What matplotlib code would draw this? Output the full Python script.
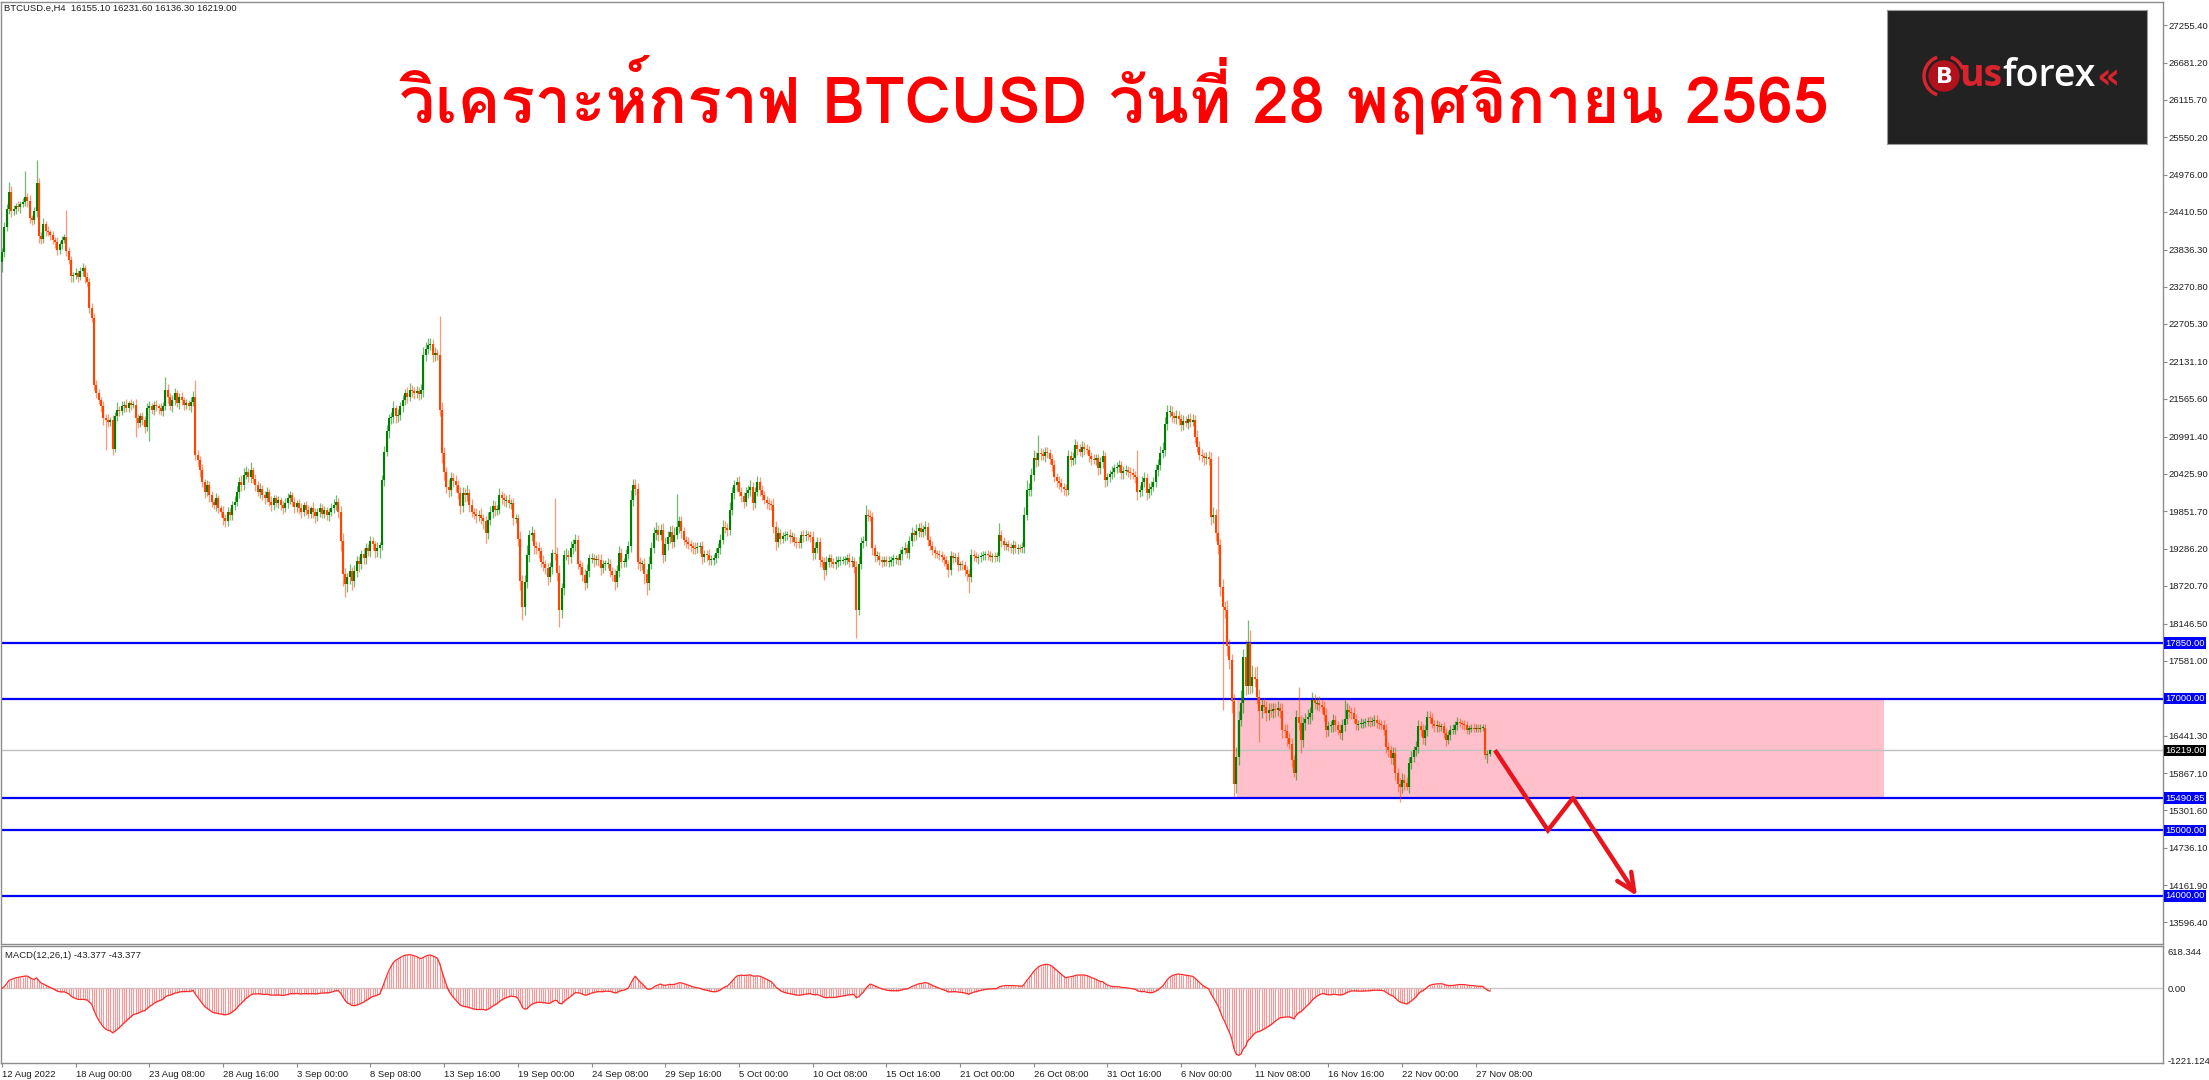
import numpy as np
import pandas as pd
import matplotlib
matplotlib.use("Agg")
import matplotlib.pyplot as plt
import matplotlib.transforms as mtransforms
import matplotlib.patheffects as pe
from matplotlib import font_manager
from matplotlib.ft2font import FT2Font
from matplotlib.patches import Rectangle, Circle, Arc
from matplotlib.font_manager import FontProperties

# ---------------- DATA ----------------
symbol_header = "BTCUSD.e,H4  16155.10 16231.60 16136.30 16219.00"
title_text = "วิเคราะห์กราฟ BTCUSD วันที่ 28 พฤศจิกายน 2565"
macd_header = "MACD(12,26,1) -43.377 -43.377"

first_open = 23650
close_prices = [
    23800, 24180, 24460, 24720, 24420, 24450, 24500, 24480, 24530, 24560, 24640, 24580, 24320, 24290, 24420, 24850, 24040, 24000, 24220, 24120,
    24100, 24060, 23980, 23950, 23830, 23930, 23990, 24030, 23810, 23680, 23430, 23450, 23480, 23420, 23510, 23550, 23420, 23350, 22950, 22790,
    21780, 21650, 21550, 21450, 21270, 21250, 21220, 21250, 20810, 21300, 21400, 21380, 21460, 21470, 21430, 21500, 21470, 21480, 21280, 21200,
    21300, 21250, 21140, 21420, 21460, 21400, 21480, 21450, 21420, 21380, 21460, 21700, 21600, 21450, 21550, 21650, 21500, 21600, 21550, 21480,
    21500, 21450, 21520, 21600, 20710, 20640, 20480, 20300, 20150, 20250, 20100, 20000, 19950, 20050, 19900, 19850, 19750, 19700, 19850, 19800,
    19950, 20000, 20150, 20300, 20250, 20400, 20450, 20380, 20480, 20350, 20250, 20150, 20200, 20100, 20050, 20150, 20000, 19950, 20050, 19980,
    20020, 19950, 19900, 19980, 20050, 20100, 20000, 19920, 19980, 19900, 19850, 19950, 19880, 19820, 19900, 19850, 19780, 19850, 19900, 19820,
    19870, 19800, 19850, 19900, 19950, 20000, 19850, 19400, 18900, 18750, 18850, 18950, 18800, 18950, 19100, 19050, 19200, 19150, 19300, 19250,
    19400, 19350, 19250, 19300, 19340, 20330, 20760, 21070, 21270, 21290, 21420, 21300, 21320, 21450, 21550, 21650, 21600, 21700, 21680, 21650,
    21680, 21640, 21700, 22230, 22330, 22380, 22400, 22230, 22260, 22230, 21400, 20740, 20450, 20230, 20180, 20360, 20310, 20250, 20130, 19930,
    20130, 20100, 20130, 19950, 19850, 19820, 19780, 19800, 19750, 19700, 19520, 19720, 19850, 19930, 19880, 19880, 20100, 20050, 20020, 20030,
    19980, 19980, 19750, 19750, 19440, 18800, 18400, 18780, 19190, 19490, 19520, 19320, 19300, 19250, 19090, 19050, 18990, 18860, 19000, 19220,
    19210, 18910, 18350, 18680, 19190, 19190, 19160, 19290, 19350, 19420, 19060, 19000, 18890, 18760, 18950, 19140, 19140, 19110, 19120, 19110,
    18990, 19050, 19060, 19060, 18950, 18890, 18780, 18950, 19220, 19090, 19090, 19200, 19320, 20030, 20250, 20200, 19090, 19060, 19060, 18900,
    18760, 19060, 19300, 19520, 19570, 19500, 19570, 19190, 19350, 19470, 19540, 19390, 19500, 19620, 19700, 19550, 19420, 19390, 19350, 19320,
    19300, 19290, 19310, 19320, 19160, 19200, 19190, 19110, 19120, 19140, 19220, 19300, 19420, 19620, 19600, 19570, 19870, 20130, 20250, 20300,
    20150, 20080, 20000, 20130, 20180, 20230, 19980, 20150, 20300, 20180, 20100, 20030, 19980, 19960, 19950, 19620, 19390, 19520, 19440, 19480,
    19490, 19500, 19460, 19470, 19390, 19380, 19370, 19490, 19480, 19500, 19490, 19470, 19220, 19300, 19390, 19110, 19090, 18960, 19090, 19140,
    19080, 19060, 19090, 19110, 19110, 19110, 19120, 19140, 19090, 19100, 19010, 18350, 19060, 19370, 19400, 19800, 19790, 19770, 19290, 19170,
    19180, 19120, 19090, 19110, 19080, 19090, 19110, 19140, 19140, 19110, 19200, 19270, 19290, 19220, 19400, 19520, 19490, 19560, 19600, 19540,
    19580, 19620, 19420, 19330, 19270, 19220, 19200, 19190, 19160, 19110, 19050, 18960, 19170, 19150, 19160, 19040, 19050, 19030, 18960, 18900,
    18860, 19190, 19170, 19140, 19160, 19170, 19190, 19200, 19190, 19160, 19170, 19160, 19170, 19490, 19400, 19340, 19350, 19310, 19290, 19340,
    19290, 19300, 19290, 19310, 19800, 20180, 20180, 20400, 20660, 20630, 20740, 20720, 20700, 20760, 20740, 20650, 20560, 20380, 20320, 20280,
    20230, 20200, 20180, 20690, 20630, 20660, 20860, 20800, 20760, 20840, 20800, 20790, 20690, 20650, 20640, 20660, 20510, 20600, 20690, 20330,
    20380, 20420, 20460, 20510, 20530, 20560, 20430, 20470, 20480, 20460, 20430, 20410, 20380, 20150, 20180, 20300, 20360, 20130, 20200, 20230,
    20300, 20480, 20560, 20740, 20790, 21190, 21370, 21370, 21300, 21270, 21300, 21260, 21170, 21230, 21200, 21260, 21220, 21250, 20990, 20840,
    20710, 20690, 20660, 20680, 20650, 19770, 19800, 19520, 19340, 18710, 18400, 18350, 17800, 17590, 16960, 15710, 16120, 16680, 16930, 17640,
    17190, 17850, 17190, 17340, 17300, 17030, 16810, 16900, 16880, 16780, 16830, 16810, 16850, 16830, 16860, 16810, 16530, 16510, 16400, 16320,
    16070, 15870, 16730, 16630, 16380, 16630, 16700, 16730, 16780, 16980, 16930, 16940, 16900, 16880, 16760, 16530, 16580, 16600, 16680, 16600,
    16530, 16480, 16600, 16700, 16830, 16800, 16780, 16700, 16610, 16620, 16630, 16630, 16650, 16660, 16650, 16660, 16680, 16630, 16610, 16600,
    16530, 16270, 16220, 16100, 16170, 15870, 15700, 15660, 15770, 15720, 15660, 16020, 16120, 16220, 16270, 16580, 16530, 16400, 16530, 16730,
    16710, 16620, 16580, 16600, 16570, 16580, 16480, 16380, 16450, 16530, 16530, 16600, 16650, 16630, 16610, 16600, 16530, 16550, 16560, 16550,
    16560, 16550, 16560, 16560, 16150, 16155, 16219,
]

upper_wick = [
    60, 80, 70, 150, 90, 60, 50, 80, 40, 70, 400, 60, 90, 50, 70, 350, 80, 60, 100, 50,
    70, 40, 60, 50, 80, 40, 60, 50, 410, 70, 60, 50, 80, 40, 60, 90, 50, 70, 60, 80,
    90, 70, 60, 50, 80, 60, 90, 40, 70, 60, 120, 50, 80, 60, 90, 40, 70, 50, 80, 60,
    50, 70, 60, 90, 80, 50, 60, 70, 40, 80, 60, 200, 90, 60, 70, 80, 50, 60, 70, 40,
    60, 50, 70, 80, 260, 70, 60, 90, 50, 80, 60, 70, 40, 90, 60, 50, 80, 60, 70, 50,
    60, 80, 90, 70, 100, 110, 90, 60, 120, 50, 70, 60, 80, 50, 60, 70, 40, 80, 60, 50,
    70, 50, 60, 80, 90, 60, 50, 70, 40, 60, 80, 50, 60, 70, 40, 90, 60, 50, 80, 60,
    70, 50, 60, 80, 90, 100, 60, 80, 120, 90, 70, 100, 60, 90, 80, 70, 60, 90, 70, 60,
    80, 70, 60, 90, 50, 80, 90, 100, 70, 80, 120, 60, 90, 70, 80, 60, 90, 100, 70, 60,
    80, 70, 90, 120, 100, 110, 90, 80, 100, 70, 600, 120, 90, 80, 110, 100, 70, 90, 80, 100,
    90, 80, 120, 70, 90, 60, 80, 70, 100, 60, 80, 120, 90, 100, 80, 70, 110, 60, 80, 70,
    90, 60, 80, 70, 60, 120, 90, 100, 150, 80, 110, 70, 90, 80, 60, 100, 70, 80, 90, 60,
    830, 100, 120, 90, 80, 100, 70, 120, 80, 90, 70, 60, 80, 90, 100, 70, 80, 60, 70, 80,
    90, 70, 60, 80, 70, 60, 90, 80, 100, 70, 60, 80, 90, 150, 100, 90, 80, 70, 60, 90,
    80, 110, 90, 100, 120, 80, 90, 100, 110, 80, 90, 100, 120, 500, 90, 80, 70, 60, 80, 70,
    60, 80, 70, 60, 80, 70, 60, 90, 70, 60, 80, 70, 90, 100, 80, 70, 120, 90, 80, 70,
    90, 80, 70, 90, 80, 100, 70, 80, 90, 70, 80, 70, 60, 80, 70, 100, 80, 90, 70, 60,
    70, 60, 80, 70, 60, 80, 70, 60, 80, 70, 60, 70, 80, 90, 70, 80, 60, 70, 80, 60,
    70, 60, 80, 70, 60, 70, 50, 60, 80, 70, 60, 90, 120, 100, 80, 150, 90, 80, 70, 60,
    70, 60, 50, 70, 60, 80, 70, 60, 50, 70, 80, 60, 90, 70, 80, 90, 70, 100, 80, 90,
    70, 80, 70, 60, 70, 60, 50, 70, 60, 50, 70, 60, 80, 70, 60, 70, 50, 60, 70, 60,
    80, 90, 70, 60, 50, 70, 60, 50, 70, 60, 50, 60, 70, 190, 80, 70, 60, 70, 60, 80,
    70, 60, 50, 70, 120, 150, 100, 110, 130, 90, 280, 80, 90, 70, 80, 60, 70, 80, 60, 70,
    80, 60, 70, 100, 80, 90, 100, 70, 80, 90, 70, 80, 60, 70, 80, 60, 70, 80, 90, 70,
    60, 70, 80, 60, 70, 80, 60, 70, 80, 60, 70, 80, 60, 400, 80, 90, 100, 70, 80, 90,
    80, 100, 90, 110, 120, 100, 110, 100, 80, 70, 90, 80, 70, 90, 80, 70, 90, 80, 70, 100,
    80, 90, 70, 80, 90, 100, 120, 90, 1170, 100, 120, 90, 150, 110, 100, 120, 150, 140, 200, 120,
    260, 350, 200, 180, 150, 200, 120, 100, 110, 90, 100, 110, 80, 90, 100, 80, 120, 90, 100, 80,
    90, 80, 100, 456, 120, 100, 90, 110, 100, 130, 100, 90, 110, 80, 90, 100, 80, 70, 90, 80,
    70, 80, 90, 280, 100, 70, 80, 90, 70, 60, 80, 70, 60, 70, 80, 60, 70, 80, 60, 70,
    80, 90, 70, 80, 90, 100, 80, 90, 100, 80, 90, 100, 80, 70, 90, 100, 80, 90, 70, 80,
    80, 70, 60, 80, 70, 60, 70, 80, 60, 70, 80, 60, 70, 60, 50, 70, 60, 50, 60, 70,
    50, 60, 50, 60, 50, 70, 13,
]

lower_wick = [
    150, 70, 60, 80, 90, 50, 70, 60, 80, 40, 60, 90, 70, 80, 60, 90, 100, 70, 60, 80,
    60, 80, 50, 90, 70, 60, 80, 50, 70, 60, 90, 80, 60, 70, 50, 80, 90, 70, 80, 60,
    80, 70, 60, 90, 100, 460, 80, 70, 100, 60, 70, 80, 60, 90, 70, 60, 80, 50, 300, 80,
    60, 80, 90, 70, 500, 60, 80, 70, 90, 60, 80, 70, 90, 60, 80, 70, 60, 90, 70, 80,
    70, 60, 80, 70, 80, 90, 100, 80, 90, 70, 100, 80, 60, 90, 70, 80, 100, 90, 70, 80,
    80, 70, 60, 90, 80, 70, 60, 80, 90, 70, 80, 60, 90, 70, 80, 60, 70, 90, 80, 60,
    70, 80, 90, 60, 70, 80, 60, 90, 70, 80, 90, 60, 80, 70, 60, 90, 100, 70, 80, 60,
    70, 80, 90, 60, 70, 80, 100, 150, 180, 200, 120, 100, 150, 90, 100, 120, 80, 90, 100, 70,
    90, 80, 100, 90, 150, 80, 90, 70, 100, 80, 90, 100, 80, 70, 90, 80, 100, 70, 90, 80,
    70, 90, 80, 100, 90, 80, 70, 100, 90, 80, 100, 150, 120, 100, 110, 90, 80, 100, 90, 120,
    80, 100, 90, 110, 80, 90, 100, 80, 90, 110, 150, 90, 80, 100, 90, 80, 70, 90, 80, 100,
    80, 90, 100, 80, 120, 150, 200, 130, 90, 100, 80, 120, 90, 100, 80, 110, 90, 120, 80, 100,
    90, 120, 250, 120, 100, 80, 110, 90, 80, 100, 90, 120, 100, 110, 80, 90, 70, 100, 80, 90,
    100, 80, 90, 70, 100, 90, 120, 80, 90, 100, 80, 90, 70, 80, 90, 100, 120, 110, 100, 150,
    180, 100, 90, 80, 100, 90, 80, 120, 90, 80, 100, 90, 80, 70, 90, 100, 80, 90, 70, 80,
    90, 80, 70, 90, 100, 80, 90, 70, 80, 90, 70, 80, 90, 70, 80, 90, 80, 70, 90, 80,
    70, 80, 90, 70, 80, 90, 100, 80, 70, 90, 80, 70, 90, 80, 70, 90, 120, 80, 90, 70,
    80, 70, 90, 80, 70, 90, 80, 70, 90, 80, 70, 80, 110, 90, 80, 100, 90, 150, 80, 90,
    80, 70, 90, 80, 70, 60, 80, 70, 90, 80, 100, 430, 80, 90, 70, 80, 90, 70, 100, 80,
    70, 90, 80, 70, 60, 80, 70, 90, 80, 70, 80, 90, 70, 80, 90, 70, 80, 70, 90, 80,
    70, 80, 90, 70, 80, 70, 60, 80, 70, 90, 80, 100, 70, 80, 60, 90, 80, 70, 90, 100,
    250, 80, 70, 60, 80, 70, 60, 70, 80, 60, 70, 80, 60, 80, 90, 70, 80, 60, 70, 80,
    70, 80, 60, 70, 90, 80, 100, 90, 80, 100, 90, 80, 70, 90, 80, 70, 90, 80, 100, 90,
    80, 90, 100, 80, 90, 70, 80, 90, 70, 80, 90, 70, 80, 90, 70, 80, 100, 90, 80, 100,
    90, 80, 70, 90, 80, 70, 90, 80, 70, 90, 80, 70, 90, 120, 80, 90, 70, 100, 80, 90,
    70, 80, 90, 70, 80, 90, 100, 80, 90, 70, 80, 90, 100, 80, 70, 90, 80, 70, 100, 90,
    80, 90, 100, 80, 90, 120, 100, 110, 130, 150, 1570, 120, 150, 130, 180, 200, 150, 120, 100, 150,
    130, 110, 120, 100, 120, 110, 460, 100, 90, 110, 100, 90, 100, 110, 90, 100, 120, 100, 110, 90,
    100, 60, 110, 100, 200, 110, 100, 90, 110, 100, 90, 100, 80, 90, 100, 110, 90, 80, 100, 90,
    80, 90, 100, 90, 80, 90, 80, 70, 90, 80, 70, 80, 60, 70, 80, 60, 70, 80, 70, 60,
    80, 90, 100, 90, 110, 100, 120, 225, 90, 100, 50, 100, 90, 80, 90, 100, 90, 80, 100, 90,
    80, 70, 90, 80, 70, 60, 80, 90, 70, 80, 60, 70, 80, 60, 70, 80, 60, 70, 60, 50,
    60, 50, 60, 50, 60, 130, 19,
]

price_ticks = [27255.40, 26681.20, 26115.70, 25550.20, 24976.00, 24410.50, 23836.30,
               23270.80, 22705.30, 22131.10, 21565.60, 20991.40, 20425.90, 19851.70,
               19286.20, 18720.70, 18146.50, 17581.00, 16441.30, 15867.10, 15301.60,
               14736.10, 14161.90, 13596.40]
level_lines = [17850.00, 17000.00, 15490.85, 15000.00, 14000.00]
current_price = 16219.00
zone_prices = [15490.85, 17000.00]
zone_bars = [536.3, 817.2]
arrow_bars = [648.3, 671.3, 682.2, 710.0]
arrow_prices = [16219.00, 15000.00, 15490.85, 14000.00]
date_labels = ['12 Aug 2022', '18 Aug 00:00', '23 Aug 08:00', '28 Aug 16:00', '3 Sep 00:00',
               '8 Sep 08:00', '13 Sep 16:00', '19 Sep 00:00', '24 Sep 08:00', '29 Sep 16:00',
               '5 Oct 00:00', '10 Oct 08:00', '15 Oct 16:00', '21 Oct 00:00', '26 Oct 08:00',
               '31 Oct 16:00', '6 Nov 00:00', '11 Nov 08:00', '16 Nov 16:00', '22 Nov 00:00',
               '27 Nov 08:00']
bars_per_label = 32
macd_ticks = [618.344, 0.0, -1221.124]
macd_tick_labels = ['618.344', '0.00', '-1221.124']

# ---------------- FIGURE ----------------
W, H = 2209, 1080
fig = plt.figure(figsize=(W / 100, H / 100), dpi=100)
fig.patch.set_facecolor('white')
def fx(p): return p / W
def fy(p): return 1 - p / H

AX_FONT = 'Liberation Sans'
FS = 6.8
GRAY = '#8c8c8c'
TXT = '#1e1e1e'

ax = fig.add_axes([fx(1), fy(944), fx(2162), (944 - 2) / H])
axm = fig.add_axes([fx(1), fy(1063), fx(2162), (1063 - 946) / H])

n = min(len(close_prices), len(upper_wick), len(lower_wick))
closes = np.array(close_prices[:n], float)
opens = np.concatenate([[first_open], closes[:-1]])
highs = np.maximum(opens, closes) + np.array(upper_wick[:n], float)
lows = np.minimum(opens, closes) - np.array(lower_wick[:n], float)
idx = np.arange(n)
up = closes >= opens

xlim = (-0.43, 938.4)
ax.set_xlim(*xlim)
ax.set_ylim(13269, 27606)

# zone
ax.add_patch(Rectangle((zone_bars[0], zone_prices[0]), zone_bars[1] - zone_bars[0],
                       zone_prices[1] - zone_prices[0], facecolor='#FFC0CB', edgecolor='none', zorder=1))
# level lines
for lv in level_lines:
    ax.axhline(lv, color='#0000FF', lw=1.6, zorder=2)
ax.axhline(current_price, color='#C0C0C0', lw=1.0, zorder=2)

# candles
GREEN = '#008000'
RED = '#FF4500'
ax.vlines(idx[up], lows[up], highs[up], color=GREEN, lw=0.9, alpha=0.55, zorder=3)
ax.vlines(idx[~up], lows[~up], highs[~up], color=RED, lw=0.9, alpha=0.55, zorder=3)
bt = np.maximum(opens, closes)
bb = np.minimum(opens, closes)
mid = (bt + bb) / 2
bt = np.maximum(bt, mid + 7)
bb = np.minimum(bb, mid - 7)
ax.vlines(idx[up], bb[up], bt[up], color=GREEN, lw=1.5, zorder=4)
ax.vlines(idx[~up], bb[~up], bt[~up], color=RED, lw=1.5, zorder=4)

# arrow
ARED = '#E8151F'
ax.plot(arrow_bars[:3], arrow_prices[:3], color=ARED, lw=3.2, solid_joinstyle='miter',
        solid_capstyle='butt', zorder=6)
ax.annotate('', xy=(arrow_bars[3], arrow_prices[3]), xytext=(arrow_bars[2], arrow_prices[2]),
            arrowprops=dict(arrowstyle='->,head_length=1.3,head_width=0.6', color=ARED, lw=3.2,
                            shrinkA=0, shrinkB=0), zorder=6)

# axes styling
for a in (ax, axm):
    for s in a.spines.values():
        s.set_color(GRAY)
        s.set_linewidth(1.0)
ax.set_xticks([])
ax.yaxis.tick_right()
ax.set_yticks(price_ticks)
ax.set_yticklabels([f'{v:.2f}' for v in price_ticks], fontfamily=AX_FONT, fontsize=FS)
ax.tick_params(axis='y', direction='out', length=3, width=0.8, color=GRAY, pad=1,
               labelright=True, labelleft=False, labelcolor=TXT)

blend = mtransforms.blended_transform_factory(ax.transAxes, ax.transData)
for lv in level_lines:
    ax.text(1.0 + 2 / 2162, lv, f'{lv:.2f}', transform=blend, ha='left', va='center',
            fontsize=FS, fontfamily=AX_FONT, color='white', zorder=10, clip_on=False,
            bbox=dict(boxstyle='square,pad=0.12', fc='#0000FF', ec='none'))
ax.text(1.0 + 2 / 2162, current_price, f'{current_price:.2f}', transform=blend, ha='left',
        va='center', fontsize=FS, fontfamily=AX_FONT, color='white', zorder=10, clip_on=False,
        bbox=dict(boxstyle='square,pad=0.12', fc='#000000', ec='none'))

# MACD
cs = pd.Series(closes)
macd = (cs.ewm(span=12, adjust=False).mean() - cs.ewm(span=26, adjust=False).mean()).values
axm.set_xlim(*xlim)
axm.set_ylim(-1270, 720)
axm.axhline(0, color='#C8C8C8', lw=1.0, zorder=1)
axm.vlines(idx, 0, macd, color='#FF9494', lw=0.8, zorder=2)
axm.plot(idx, macd, color='#FF2A2A', lw=0.9, zorder=3)
axm.yaxis.tick_right()
axm.set_yticks(macd_ticks)
axm.set_yticklabels(macd_tick_labels, fontfamily=AX_FONT, fontsize=FS)
axm.tick_params(axis='y', length=0, pad=3, labelright=True, labelleft=False, labelcolor=TXT)
xt = [i * bars_per_label for i in range(len(date_labels))]
axm.set_xticks(xt)
axm.set_xticklabels(date_labels, fontfamily=AX_FONT, fontsize=FS, color=TXT)
for lab in axm.get_xticklabels():
    lab.set_ha('left')
axm.tick_params(axis='x', direction='out', length=3, width=0.8, color=GRAY, pad=2)
axm.text(4 / 2162, 1 - 10 / 117, macd_header, transform=axm.transAxes, ha='left', va='center',
         fontsize=FS, fontfamily=AX_FONT, color=TXT)

# header
fig.text(fx(4), fy(8), symbol_header, ha='left', va='center', fontsize=FS,
         fontfamily=AX_FONT, color=TXT)

# ---------------- TITLE (Thai) ----------------
def find_thai_font():
    best = None
    for f in font_manager.fontManager.ttflist:
        try:
            cmap = FT2Font(f.fname).get_charmap()
        except Exception:
            continue
        if 0x0E01 in cmap and ord('B') in cmap:
            w = f.weight
            try:
                w = int(w)
            except Exception:
                w = 700 if str(w).lower() in ('bold', 'heavy', 'black', 'extra bold', 'semibold', 'demibold') else 400
            score = (2 if w >= 600 else 0) + (1 if f.style == 'normal' else 0)
            if best is None or score > best[0]:
                best = (score, f, w)
    return best

tf = find_thai_font()
if tf is not None:
    tprops = FontProperties(fname=tf[1].fname, size=54)
    bold_needed = tf[2] < 600
else:
    tprops = FontProperties(family='DejaVu Sans', weight='bold', size=54)
    bold_needed = False

title = fig.text(fx(1114), fy(96), title_text, ha='center', va='center', color='#FF0000',
                 fontproperties=tprops)
if bold_needed:
    title.set_path_effects([pe.withStroke(linewidth=3, foreground='#FF0000')])
renderer = fig.canvas.get_renderer()
bw = title.get_window_extent(renderer).width
if bw > 0:
    tprops.set_size(54 * 1430 / bw)
    title.set_fontproperties(tprops)

# ---------------- LOGO ----------------
lx0, ly0, lw_, lh_ = 1887, 10, 260, 134
lax = fig.add_axes([fx(lx0), fy(ly0 + lh_), lw_ / W, lh_ / H])
lax.set_xlim(0, lw_)
lax.set_ylim(lh_, 0)
lax.set_facecolor('#222222')
for s in lax.spines.values():
    s.set_color('#9a9a9a')
    s.set_linewidth(0.8)
lax.set_xticks([])
lax.set_yticks([])
LRED = '#D9232D'
lax.add_patch(Arc((57, 66), 40, 40, theta1=110, theta2=250, color=LRED, lw=2.5))
lax.add_patch(Arc((57, 66), 40, 40, theta1=290, theta2=340, color=LRED, lw=2.5))
lax.add_patch(Circle((57, 66), 15, color='#B3121C'))
lax.text(57, 67, 'B', ha='center', va='center', color='white', fontsize=16,
         fontfamily='DejaVu Sans', fontweight='bold')
t1 = lax.text(72, 66, 'us', ha='left', va='center', color=LRED, fontsize=27,
              fontfamily='Open Sans', fontweight='bold')
fig.canvas.draw()
bb1 = t1.get_window_extent(renderer)
inv = lax.transData.inverted()
x_end = inv.transform((bb1.x1, bb1.y0))[0]
t2 = lax.text(x_end, 66, 'forex', ha='left', va='center', color='white', fontsize=27,
              fontfamily='Open Sans', fontweight='semibold')
fig.canvas.draw()
bb2 = t2.get_window_extent(renderer)
x_end2 = inv.transform((bb2.x1, bb2.y0))[0]
lax.text(x_end2 + 1, 68, '«', ha='left', va='center', color=LRED, fontsize=26,
         fontfamily='DejaVu Sans', fontweight='bold')

fig.savefig('out.png', dpi=100, facecolor='white')
